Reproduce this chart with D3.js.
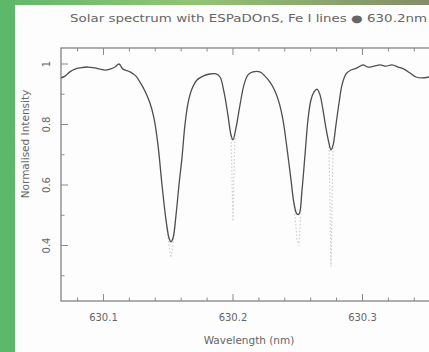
<!DOCTYPE html>
<html>
<head>
<meta charset="utf-8">
<script src="https://cdn.jsdelivr.net/npm/d3@7"></script>
<style>
  body { margin: 0; padding: 0; overflow: hidden; background: #fff; }
  text { font-family: "DejaVu Sans", sans-serif; fill: #666; }
</style>
</head>
<body>
<div id="chart"></div>
<script>
// observed spectrum (nm, normalised intensity)
var wavelength = [630.0672, 630.0703, 630.0741, 630.0780, 630.0819, 630.0880, 630.0934, 630.0973,
  630.1012, 630.1050, 630.1089, 630.1120, 630.1151, 630.1205, 630.1251, 630.1282, 630.1320,
  630.1359, 630.1390, 630.1421, 630.1452, 630.1483, 630.1506, 630.1521, 630.1537, 630.1560,
  630.1583, 630.1606, 630.1629, 630.1653, 630.1683, 630.1722, 630.1768, 630.1822, 630.1869,
  630.1900, 630.1931, 630.1961, 630.1985, 630.2000, 630.2023, 630.2054, 630.2085, 630.2116,
  630.2154, 630.2208, 630.2247, 630.2286, 630.2324, 630.2355, 630.2386, 630.2417, 630.2448,
  630.2471, 630.2494, 630.2510, 630.2533, 630.2556, 630.2579, 630.2602, 630.2625, 630.2649,
  630.2672, 630.2695, 630.2718, 630.2741, 630.2757, 630.2773, 630.2795, 630.2819, 630.2842,
  630.2873, 630.2911, 630.2958, 630.3004, 630.3042, 630.3089, 630.3136, 630.3182, 630.3228,
  630.3274, 630.3321, 630.3367, 630.3413, 630.3459, 630.3514];
var intensity = [0.954, 0.960, 0.974, 0.983, 0.987, 0.990, 0.987, 0.983,
  0.980, 0.983, 0.990, 1.000, 0.983, 0.974, 0.960, 0.940, 0.911,
  0.871, 0.821, 0.732, 0.600, 0.484, 0.425, 0.412, 0.425, 0.500,
  0.600, 0.689, 0.798, 0.871, 0.917, 0.947, 0.960, 0.967, 0.967,
  0.957, 0.907, 0.831, 0.765, 0.749, 0.788, 0.864, 0.931, 0.964,
  0.974, 0.974, 0.960, 0.940, 0.911, 0.874, 0.815, 0.722, 0.617,
  0.540, 0.504, 0.504, 0.583, 0.699, 0.815, 0.881, 0.907, 0.917,
  0.898, 0.848, 0.788, 0.739, 0.716, 0.732, 0.798, 0.871, 0.931,
  0.967, 0.980, 0.987, 0.997, 0.990, 0.993, 0.997, 0.993, 0.997,
  0.990, 0.983, 0.970, 0.957, 0.954, 0.957];

// faint reference cores (dotted)
var refCores = [
  { wave: [630.1483, 630.1506, 630.1521, 630.1537, 630.1560], value: [0.484, 0.40, 0.36, 0.40, 0.50] },
  { wave: [630.1985, 630.2000, 630.2015], value: [0.765, 0.48, 0.765] },
  { wave: [630.2471, 630.2494, 630.2510, 630.2533], value: [0.540, 0.42, 0.40, 0.583] },
  { wave: [630.2741, 630.2757, 630.2773], value: [0.739, 0.33, 0.732] }
];

var xTicks = [630.1, 630.2, 630.3];
var yTicks = [0.4, 0.6, 0.8, 1];
var title = "Solar spectrum with ESPaDOnS, Fe I lines \u25CF 630.2nm";

(function () {
  var W = 429, H = 352;
  var mLeft = 61, mTop = 48, mBottom = 301, mRight = 447;

  var svg = d3.select("#chart").append("svg")
    .attr("width", W).attr("height", H);

  var defs = svg.append("defs");
  var grad = defs.append("linearGradient").attr("id", "topgrad")
    .attr("x1", "0%").attr("x2", "100%");
  grad.append("stop").attr("offset", "0%").attr("stop-color", "#5fb86a");
  grad.append("stop").attr("offset", "45%").attr("stop-color", "#93c474");
  grad.append("stop").attr("offset", "100%").attr("stop-color", "#858c68");

  svg.append("rect").attr("width", W).attr("height", H).attr("fill", "#fdfdfd");
  svg.append("rect").attr("width", W).attr("height", 5).attr("fill", "url(#topgrad)");
  svg.append("rect").attr("width", 15).attr("height", H).attr("fill", "#5db86a");

  var x = d3.scaleLinear().domain([630.0672, 630.0672 + (mRight - mLeft) / 1295]).range([mLeft, mRight]);
  var y = d3.scaleLinear().domain([1 - (mBottom - 64) / 302.5, 1 + 16 / 302.5]).range([mBottom, mTop]);

  svg.append("rect")
    .attr("x", mLeft).attr("y", mTop)
    .attr("width", mRight - mLeft).attr("height", mBottom - mTop)
    .attr("fill", "none").attr("stroke", "#7a7a7a").attr("stroke-width", 1.2);

  // ticks (inward)
  var xMinor = d3.range(630.08, 630.36, 0.02);
  var yMinor = d3.range(0.3, 1.05, 0.1);
  var tk = svg.append("g").attr("stroke", "#8a8a8a").attr("stroke-width", 1);
  xMinor.forEach(function (v) {
    var major = xTicks.some(function (t) { return Math.abs(t - v) < 1e-6; });
    var len = major ? 7 : 3.5;
    tk.append("line").attr("x1", x(v)).attr("x2", x(v)).attr("y1", mBottom).attr("y2", mBottom - len);
    tk.append("line").attr("x1", x(v)).attr("x2", x(v)).attr("y1", mTop).attr("y2", mTop + len);
  });
  yMinor.forEach(function (v) {
    var major = yTicks.some(function (t) { return Math.abs(t - v) < 1e-6; });
    var len = major ? 7 : 3.5;
    tk.append("line").attr("x1", mLeft).attr("x2", mLeft + len).attr("y1", y(v)).attr("y2", y(v));
  });

  // tick labels
  xTicks.forEach(function (t) {
    svg.append("text").attr("x", x(t)).attr("y", 321)
      .attr("text-anchor", "middle").attr("font-size", 10).text(d3.format(".1f")(t));
  });
  yTicks.forEach(function (t) {
    svg.append("text")
      .attr("transform", "translate(50," + y(t) + ") rotate(-90)")
      .attr("text-anchor", "middle").attr("font-size", 10)
      .text(t === 1 ? "1" : d3.format(".1f")(t));
  });

  // titles
  svg.append("text").attr("x", 249).attr("y", 344)
    .attr("text-anchor", "middle").attr("font-size", 10.5).attr("fill", "#555").text("Wavelength (nm)");
  svg.append("text")
    .attr("transform", "translate(29,144) rotate(-90)")
    .attr("text-anchor", "middle").attr("font-size", 10.5).attr("fill", "#555").text("Normalised Intensity");
  svg.append("text").attr("x", 70).attr("y", 22).attr("font-size", 10).attr("fill", "#555")
    .attr("textLength", 357).attr("lengthAdjust", "spacingAndGlyphs").text(title);

  var line = d3.line().x(function (d) { return x(d[0]); }).y(function (d) { return y(d[1]); });

  refCores.forEach(function (c) {
    svg.append("path")
      .datum(c.wave.map(function (w, i) { return [w, c.value[i]]; }))
      .attr("d", line).attr("fill", "none")
      .attr("stroke", "#cfcfcf").attr("stroke-width", 1.2)
      .attr("stroke-dasharray", "1.5,2");
  });

  svg.append("path")
    .datum(wavelength.map(function (w, i) { return [w, intensity[i]]; }))
    .attr("d", line.curve(d3.curveCatmullRom))
    .attr("fill", "none").attr("stroke", "#4e4e4e").attr("stroke-width", 1.3);
})();
</script>
</body>
</html>
